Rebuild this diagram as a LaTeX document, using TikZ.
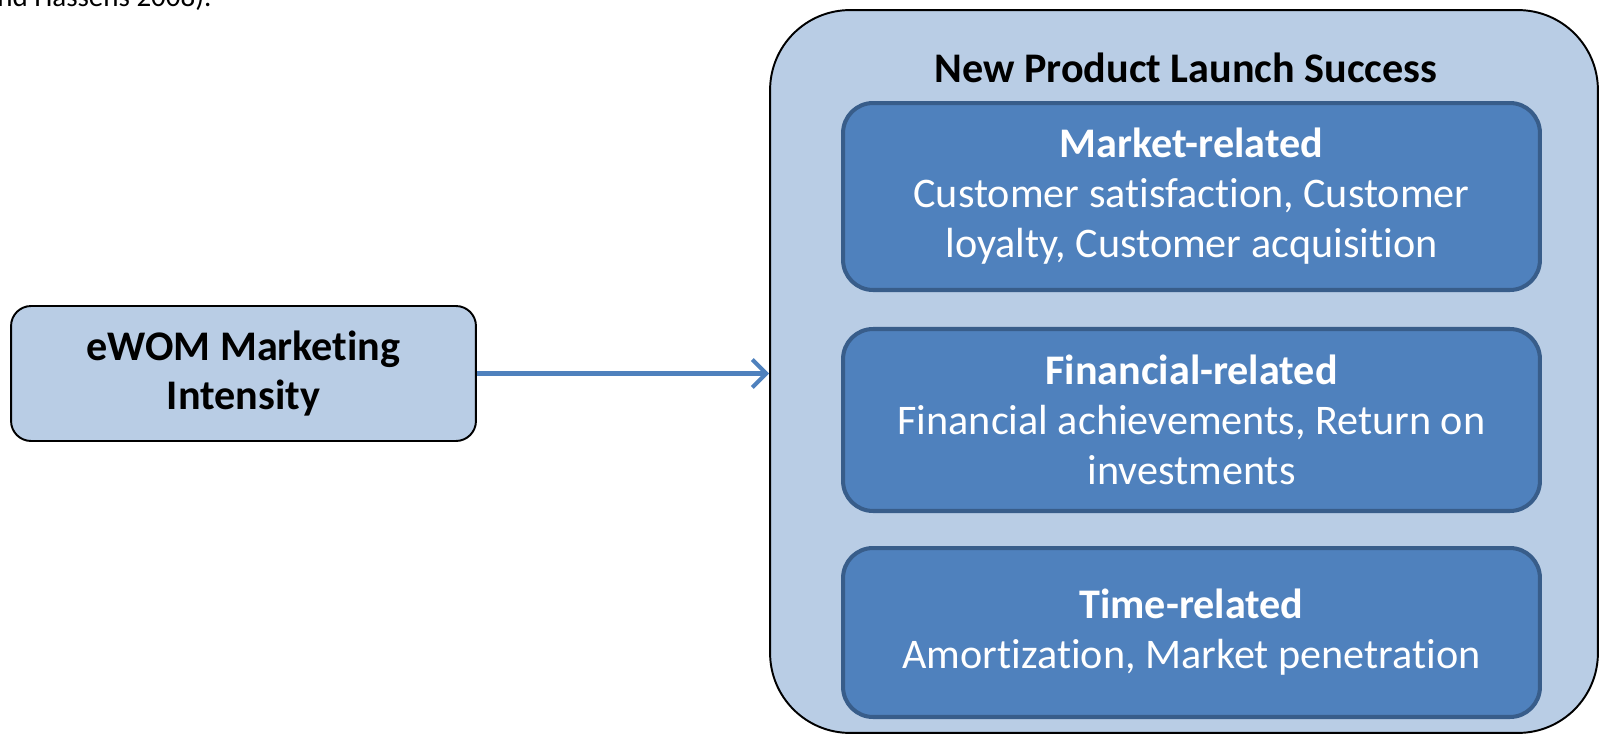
\documentclass[tikz,border=0pt]{standalone}
\usepackage{fontspec}
\setmainfont{Carlito}[Ligatures=NoCommon]
\usetikzlibrary{positioning,arrows.meta}
\definecolor{lightblue}{HTML}{B9CDE5}
\definecolor{midblue}{HTML}{4F81BD}
\definecolor{darkblue}{HTML}{385D8A}

\begin{document}
\begin{tikzpicture}[x=0.02cm, y=-0.02cm, node distance = 0.7cm,
	every node/.style = {align = center, inner sep = 0pt,
		font = \fontsize{24}{28.5}\selectfont},
	outerbox/.style = {rectangle, draw=black, line width=1.1pt, fill=lightblue},
	groupbox/.style = {rectangle, draw=darkblue, line width=2.3pt, fill=midblue,
		text=white, minimum width = 13.94cm, rounded corners = 0.6cm},
	flow/.style = {draw=midblue, line width=2.3pt,
		-{Straight Barb[length=0.28cm, width=0.56cm]}}]
	
	\useasboundingbox (0,0) rectangle (1600,734);
	
	% cut-off line of the running text
	\node[anchor=base west, font=\fontsize{16.5}{19}\selectfont] (cite) at (-3,6) {nd Hassens 2008).};
	
	% left: driver
	\node[outerbox, minimum width=9.3cm, minimum height=2.7cm, rounded corners=0.4cm,
		font=\fontsize{24}{27.5}\selectfont\bfseries] (ewom) at (243.5,373.5) {eWOM Marketing\\Intensity};
	
	% right: outcome frame with its three groups
	\node[outerbox, minimum width=16.56cm, minimum height=14.46cm, rounded corners=1.6cm] (launch) at (1184,371.5) {};
	\node[anchor=base] (title) at (1186,82) {\textbf{New Product Launch Success}};
	
	\node[groupbox, minimum height=3.74cm] (market) at (1191.5,196.5)
		{\textbf{Market-related}\\Customer satisfaction, Customer\\loyalty, Customer acquisition};
	\node[groupbox, minimum height=3.64cm, below = of market] (financial)
		{\textbf{Financial-related}\\Financial achievements, Return on\\investments};
	\node[groupbox, minimum height=3.38cm, below = 0.66cm of financial] (time)
		{\textbf{Time-related}\\Amortization, Market penetration};
	
	% connection
	\draw[flow] (ewom.east) -- (ewom.east -| launch.west);
\end{tikzpicture}
\end{document}
